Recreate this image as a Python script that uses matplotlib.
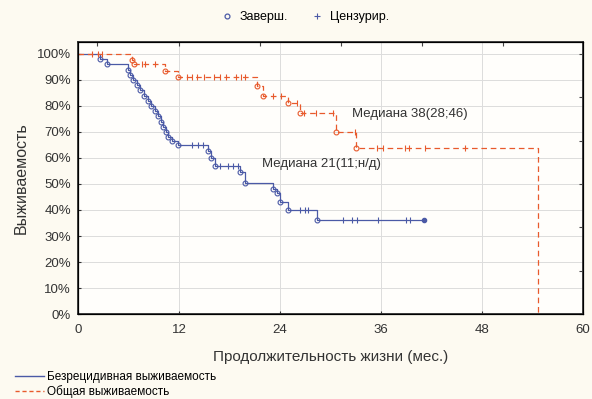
import numpy as np
import matplotlib.pyplot as plt
from matplotlib.lines import Line2D

plt.rcParams['font.family'] = ['Liberation Sans', 'DejaVu Sans']

# Безрецидивная выживаемость: моменты событий и доля выживших после события (%)
rfs_t = [2.6, 3.4, 5.9, 6.2, 6.5, 7.0, 7.4, 7.8, 8.3, 8.7, 9.1, 9.5, 9.8, 10.1, 10.4,
         10.7, 11.2, 11.9, 15.5, 15.8, 16.3, 19.3, 19.8, 23.2, 23.6, 24.0, 25.0, 28.4]
rfs_s = [98, 96, 94, 92, 90, 88, 86, 84, 82, 80, 78, 76, 74, 72, 70,
         68, 66.5, 65, 62.5, 60, 57, 54.5, 50.5, 48, 46.5, 43, 40, 36]
rfs_cens = [13.5, 14.3, 14.9, 16.9, 17.8, 18.4, 19.0, 26.4, 27.0, 27.3,
            31.5, 32.5, 33.2, 35.7, 39.0, 39.4]
rfs_end = 41.1

# Общая выживаемость
os_t = [6.4, 6.6, 10.3, 11.9, 21.3, 22.0, 24.9, 26.4, 30.6, 33.0, 54.6]
os_s = [97.5, 96, 93.5, 91, 87.5, 84, 81, 77.3, 70, 64, 0]
os_cens = [1.7, 2.4, 2.9, 7.6, 8.0, 9.1, 12.9, 13.6, 14.1, 15.0, 16.2, 16.9, 17.6,
           18.8, 19.4, 19.8, 23.2, 24.1, 26.0, 26.9, 28.3, 30.3, 32.9,
           35.5, 36.2, 38.9, 39.3, 41.2, 46.0]
os_end = 54.6

blue = '#4b5aa6'
red = '#e85a2c'
txt = '#333333'


def level(times, surv, x):
    idx = np.searchsorted(times, x, side='right') - 1
    return 100.0 if idx < 0 else surv[idx]


fig = plt.figure(figsize=(5.92, 3.99), dpi=100)
fig.patch.set_facecolor('#fdfaf1')
ax = fig.add_axes([0.1318, 0.213, 0.853, 0.6817])
ax.set_facecolor('#fffefb')

for times, surv, cens, end, col, ls in [(rfs_t, rfs_s, rfs_cens, rfs_end, blue, '-'),
                                         (os_t, os_s, os_cens, os_end, red, '--')]:
    xs = [0] + list(times) + [end]
    ys = [100] + list(surv) + [surv[-1]]
    ax.step(xs, ys, where='post', color=col, lw=0.9, ls=ls, dashes=(4.5, 3) if ls == '--' else (None, None), zorder=3)
    ev = [(t, s) for t, s in zip(times, surv) if s > 0]
    ax.plot([e[0] for e in ev], [e[1] for e in ev], 'o', mfc='none', mec=col, ms=3.5, mew=0.8, zorder=4)
    ax.plot(cens, [level(times, surv, c) for c in cens], '|', color=col, ms=4.5, mew=0.8, zorder=4)
ax.plot([rfs_end], [rfs_s[-1]], 'o', color=blue, ms=3, zorder=4)

ax.set_xlim(0, 60)
ax.set_ylim(0, 104.6)
ax.set_xticks([0, 12, 24, 36, 48, 60])
ax.set_yticks(np.arange(0, 101, 10))
ax.set_yticklabels(['%d%%' % v for v in range(0, 101, 10)])
ax.grid(True, color='#dcdcdc', lw=0.7)
ax.set_axisbelow(True)
ax.tick_params(labelsize=9.5, colors=txt, length=2.5, direction='in', pad=5)
ax.tick_params(axis='x', pad=7)
for sp in ax.spines.values():
    sp.set_color('#333333')
    sp.set_linewidth(1.3)

ax2 = ax.twinx()
ax2.set_ylim(0, 104.6)
ax2.set_yticks([0, 16.7, 33.3, 50, 66.7, 83.3, 100])
ax2.tick_params(direction='in', length=3, labelright=False, colors='#444444')
ax3 = ax.twiny()
ax3.set_xlim(0, 60)
ax3.set_xticks([2.2, 12, 21.6, 31.2, 40.9, 50.5])
ax3.tick_params(direction='in', length=3, labeltop=False, colors='#444444')

ax.set_xlabel('Продолжительность жизни (мес.)', fontsize=11, color=txt, labelpad=10)
ax.set_ylabel('Выживаемость', fontsize=11.5, color=txt, labelpad=6)

ax.text(32.5, 77, 'Медиана 38(28;46)', fontsize=9.5, color=txt, va='center')
ax.text(21.8, 57.5, 'Медиана 21(11;н/д)', fontsize=9.5, color=txt, va='center')

# легенда сверху
h_top = [Line2D([], [], marker='o', ls='none', mfc='none', mec=blue, ms=3.5, mew=0.9),
         Line2D([], [], marker='+', ls='none', color=blue, ms=4, mew=0.8)]
fig.legend(h_top, ['Заверш.', 'Цензурир.'], loc='center', bbox_to_anchor=(0.515, 0.957),
           ncol=2, frameon=False, fontsize=9, handlelength=1, handletextpad=0.5, columnspacing=1.8)

# легенда снизу
h_bot = [Line2D([], [], color=blue, lw=1),
         Line2D([], [], color=red, lw=1, ls='--', dashes=(3, 2))]
fig.legend(h_bot, ['Безрецидивная выживаемость', 'Общая выживаемость'], loc='lower left',
           bbox_to_anchor=(0.008, -0.024), frameon=False, fontsize=8.5, handlelength=2.4,
           handletextpad=0.3, labelspacing=0.2)

fig.savefig('out.png', dpi=100, facecolor=fig.get_facecolor())
